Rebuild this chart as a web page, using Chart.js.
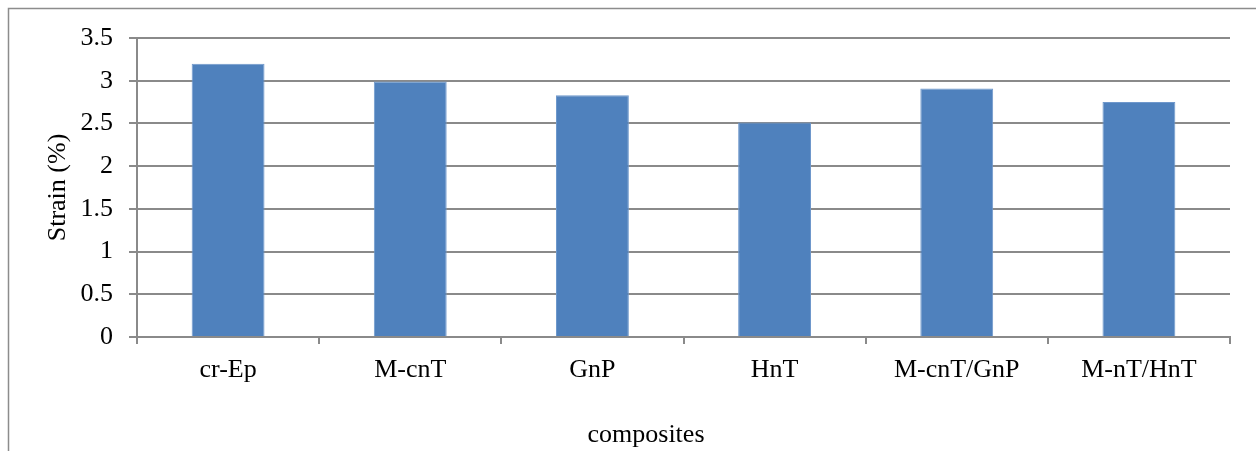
<!DOCTYPE html>
<html>
<head>
<meta charset="utf-8">
<script src="https://cdn.jsdelivr.net/npm/chart.js@4/dist/chart.umd.min.js"></script>
<style>
  html, body { margin: 0; padding: 0; background: #fff; }
  #wrap { width: 1256px; height: 451px; position: relative; }
</style>
</head>
<body>
<div id="wrap"><canvas id="mychart"></canvas></div>
<script>
const categories = ['cr-Ep', 'M-cnT', 'GnP', 'HnT', 'M-cnT/GnP', 'M-nT/HnT'];
const strainValues = [3.2, 2.99, 2.83, 2.51, 2.91, 2.75];
const yTicks = [0, 0.5, 1, 1.5, 2, 2.5, 3, 3.5];
const xTitle = 'composites';
const yTitle = 'Strain (%)';

const gridGray = '#8a8a8a';
const serif = "'Liberation Serif', 'Times New Roman', serif";

// outer frame (left and top edges only) and the x axis title,
// which sits a bit left of the plot centre in the original
const framePlugin = {
    id: 'frame',
    beforeDraw(chart) {
        const ctx = chart.ctx;
        ctx.save();
        ctx.strokeStyle = '#8c8c8c';
        ctx.lineWidth = 1.5;
        ctx.beginPath();
        ctx.moveTo(8.5, 451);
        ctx.lineTo(8.5, 8.5);
        ctx.lineTo(1256, 8.5);
        ctx.stroke();
        ctx.restore();
    },
    afterDraw(chart) {
        const ctx = chart.ctx;
        ctx.save();
        ctx.fillStyle = '#000';
        ctx.font = '26px ' + serif;
        ctx.textAlign = 'center';
        ctx.textBaseline = 'alphabetic';
        ctx.fillText(xTitle, 646, 442);
        ctx.restore();
    }
};

const ctx1 = document.getElementById('mychart').getContext('2d');

const barChart = new Chart(ctx1,
{
    type: 'bar',
    plugins: [framePlugin],
    data:
    {
        labels: categories,
        datasets:
        [{
            data: strainValues,
            backgroundColor: '#4F81BD',
            borderColor: '#6f98cc',
            borderWidth: 1,
            barPercentage: 0.4,
            categoryPercentage: 1.0
        }]
    },
    options:
    {
        responsive: true,
        maintainAspectRatio: false,
        animation: false,
        layout:
        {
            padding: { left: 10, right: 26, top: 38, bottom: 0 }
        },
        plugins:
        {
            legend: { display: false },
            tooltip: { enabled: false },
            title: { display: false }
        },
        scales:
        {
            x:
            {
                afterFit: (scale) => { scale.height = 114; },
                grid:
                {
                    drawOnChartArea: false,
                    drawTicks: true,
                    tickLength: 7,
                    color: gridGray,
                    lineWidth: 2
                },
                border: { color: gridGray, width: 2 },
                ticks:
                {
                    color: '#000',
                    padding: 11,
                    maxRotation: 0,
                    font: { family: serif, size: 26 }
                }
            },
            y:
            {
                min: 0,
                max: 3.5,
                afterFit: (scale) => { scale.width = 127; },
                afterBuildTicks: (scale) => { scale.ticks = yTicks.map(v => ({ value: v })); },
                grid:
                {
                    drawTicks: true,
                    tickLength: 8,
                    color: gridGray,
                    lineWidth: 2
                },
                border: { color: gridGray, width: 2 },
                ticks:
                {
                    color: '#000',
                    padding: 16,
                    font: { family: serif, size: 26 },
                    callback: (value) => String(value)
                },
                title:
                {
                    display: true,
                    text: yTitle,
                    color: '#000',
                    padding: { top: 33, bottom: 4 },
                    font: { family: serif, size: 26 }
                }
            }
        }
    }
});
</script>
</body>
</html>
